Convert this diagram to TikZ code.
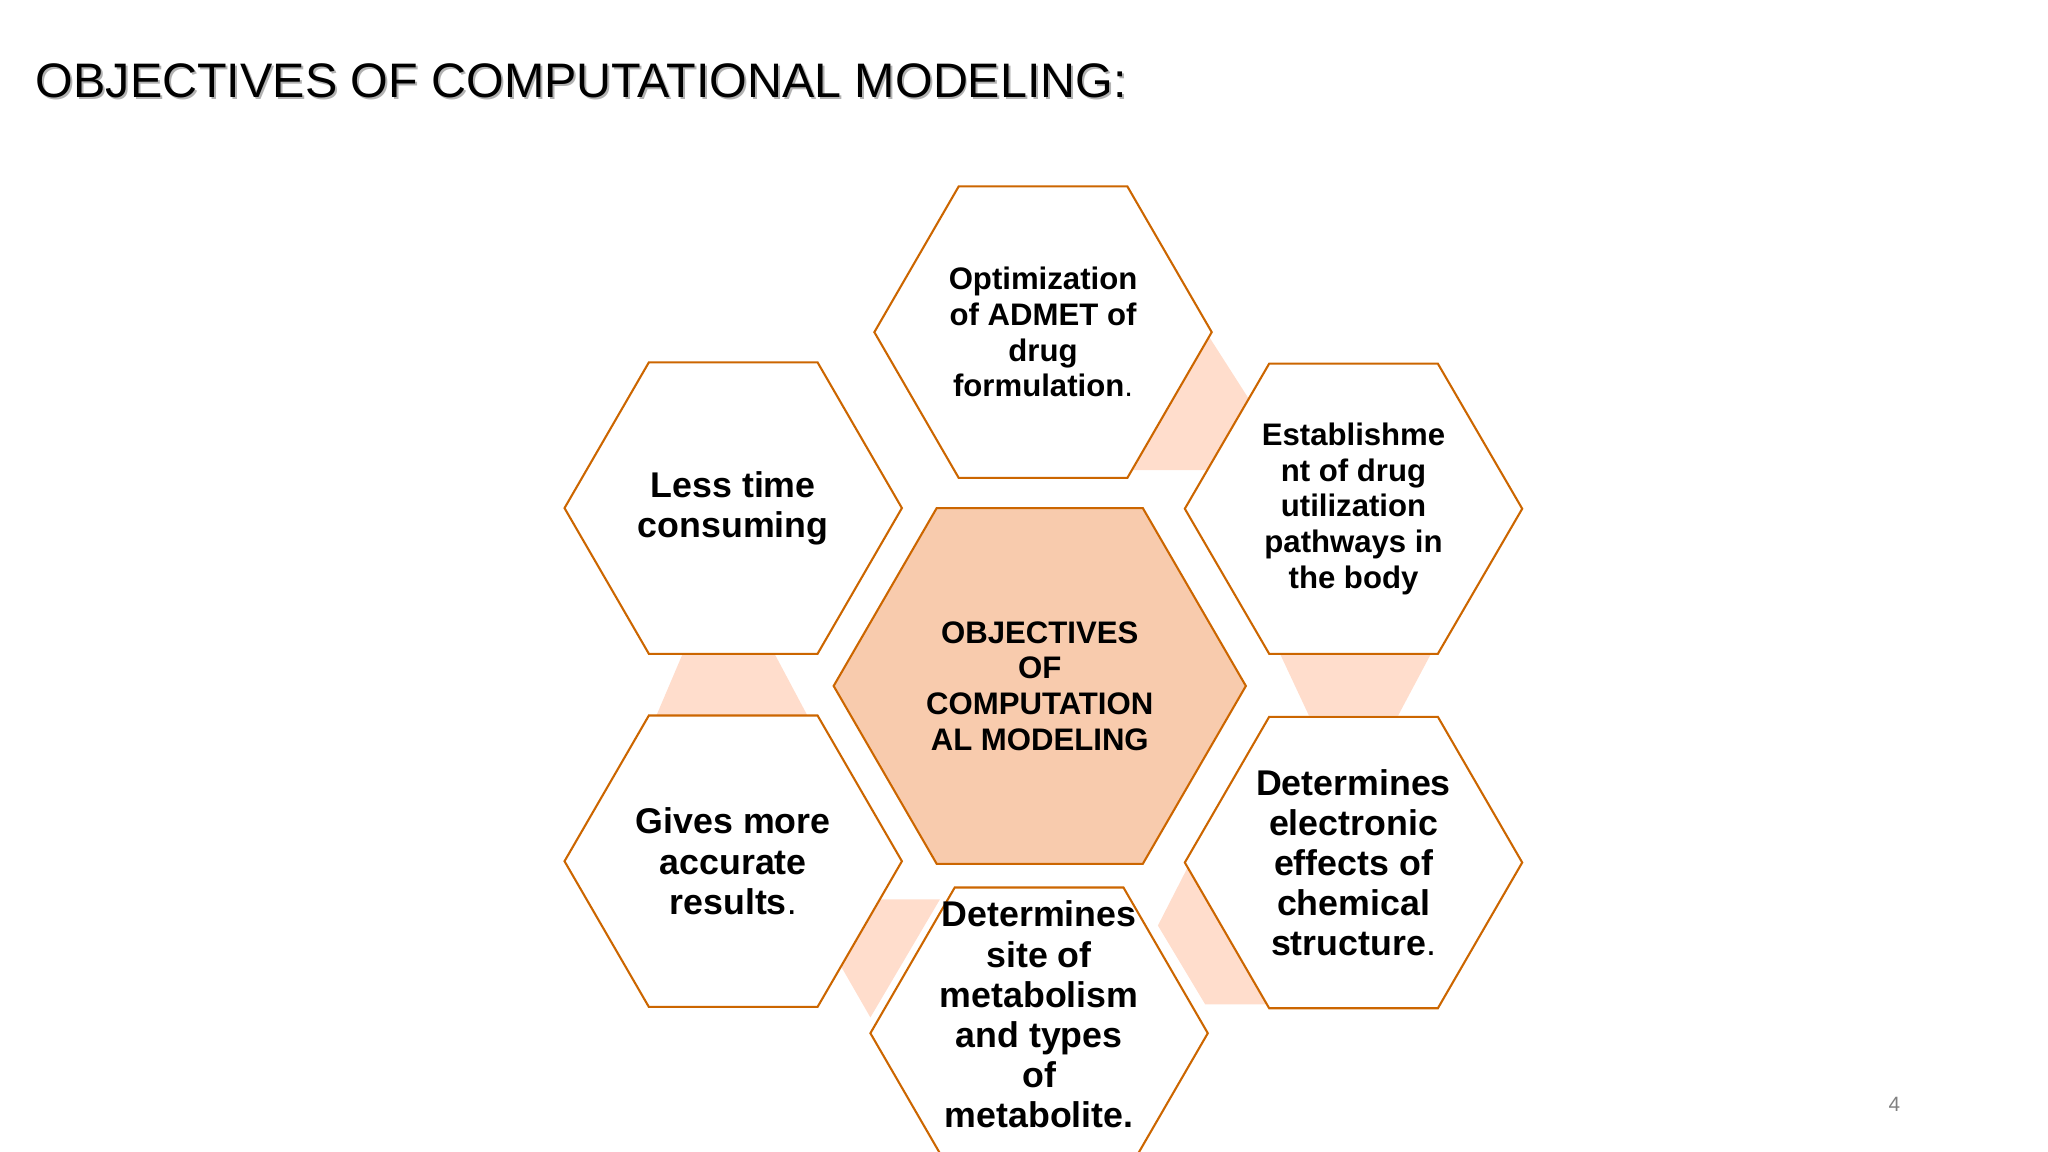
\documentclass[tikz,border=0pt]{standalone}
\usepackage{fontspec}
\setmainfont{Liberation Sans}
\begin{document}
\begin{tikzpicture}[x=0.02cm,y=-0.02cm,
  hexline/.style={draw=orange!80!black, line width=0.9pt, fill=white},
  conn/.style={fill=red!35!orange!20, draw=none},
  txt/.style={align=center, font=\bfseries, inner sep=0pt}]
\useasboundingbox (0,0) rectangle (1560,877);
\newcommand{\hexa}[6]{% cx cy w h style name
  \path[#5] (#1-#3/2,#2) -- (#1-#3/4,#2-#4/2) -- (#1+#3/4,#2-#4/2) -- (#1+#3/2,#2) -- (#1+#3/4,#2+#4/2) -- (#1-#3/4,#2+#4/2) -- cycle;
  \coordinate (#6) at (#1,#2);}
% connectors
\fill[conn] (920,255) -- (952,305) -- (920,358) -- (862,358) -- cycle;
\fill[conn] (520,498) -- (590,498) -- (615,545) -- (500,545) -- cycle;
\fill[conn] (975,498) -- (1090,498) -- (1065,545) -- (997,545) -- cycle;
\fill[conn] (905,660) -- (965,765) -- (918,765) -- (882,705) -- cycle;
\fill[conn] (668,685) -- (716,685) -- (663,775) -- (640,735) -- cycle;
% hexagons
\hexa{794.5}{253}{257}{222}{hexline}{top}
\hexa{558.5}{387}{257}{222}{hexline}{ul}
\hexa{1031}{387.5}{257}{221}{hexline}{ur}
\hexa{558.5}{656}{257}{222}{hexline}{ll}
\hexa{1031}{657}{257}{222}{hexline}{lr}
\hexa{791.5}{787}{257}{222}{hexline}{bot}
\hexa{792}{522.5}{314}{271}{draw=orange!80!black, line width=0.9pt, fill={rgb,255:red,248;green,203;blue,173}}{ctr}
% texts
\node[txt,font=\bfseries\fontsize{13.5}{15.5}\selectfont] at (top) {Optimization\\of ADMET of\\drug\\formulation{\mdseries.}};
\node[txt,font=\bfseries\fontsize{15.5}{17.5}\selectfont] at (ul) {Less time\\consuming};
\node[txt,font=\bfseries\fontsize{13.5}{15.5}\selectfont] at ([yshift=0]ur) {Establishme\\nt of drug\\utilization\\pathways in\\the body};
\node[txt,font=\bfseries\fontsize{13.5}{15.5}\selectfont] at ([yshift=0]ctr) {OBJECTIVES\\OF\\COMPUTATION\\AL MODELING};
\node[txt,font=\bfseries\fontsize{15.5}{17.4}\selectfont] at (ll) {Gives more\\accurate\\results{\mdseries.}};
\node[txt,font=\bfseries\fontsize{15.5}{17.4}\selectfont] at (lr) {Determines\\electronic\\effects of\\chemical\\structure{\mdseries.}};
\node[txt,font=\bfseries\fontsize{15.5}{17.4}\selectfont,anchor=north] at (791.5,686) {Determines\\site of\\metabolism\\and types\\of\\metabolite.};
% title
\node[anchor=west,inner sep=0pt,font=\fontsize{21}{24}\selectfont,text=gray!60] (tsh) at (28.5,63) {OBJECTIVES OF COMPUTATIONAL MODELING:};
\node[anchor=west,inner sep=0pt,font=\fontsize{21}{24}\selectfont] (title) at (27,61.5) {OBJECTIVES OF COMPUTATIONAL MODELING:};
\node[text=gray, font=\fontsize{9}{10}\selectfont] (pg) at (1443,841) {4};
\end{tikzpicture}
\end{document}
